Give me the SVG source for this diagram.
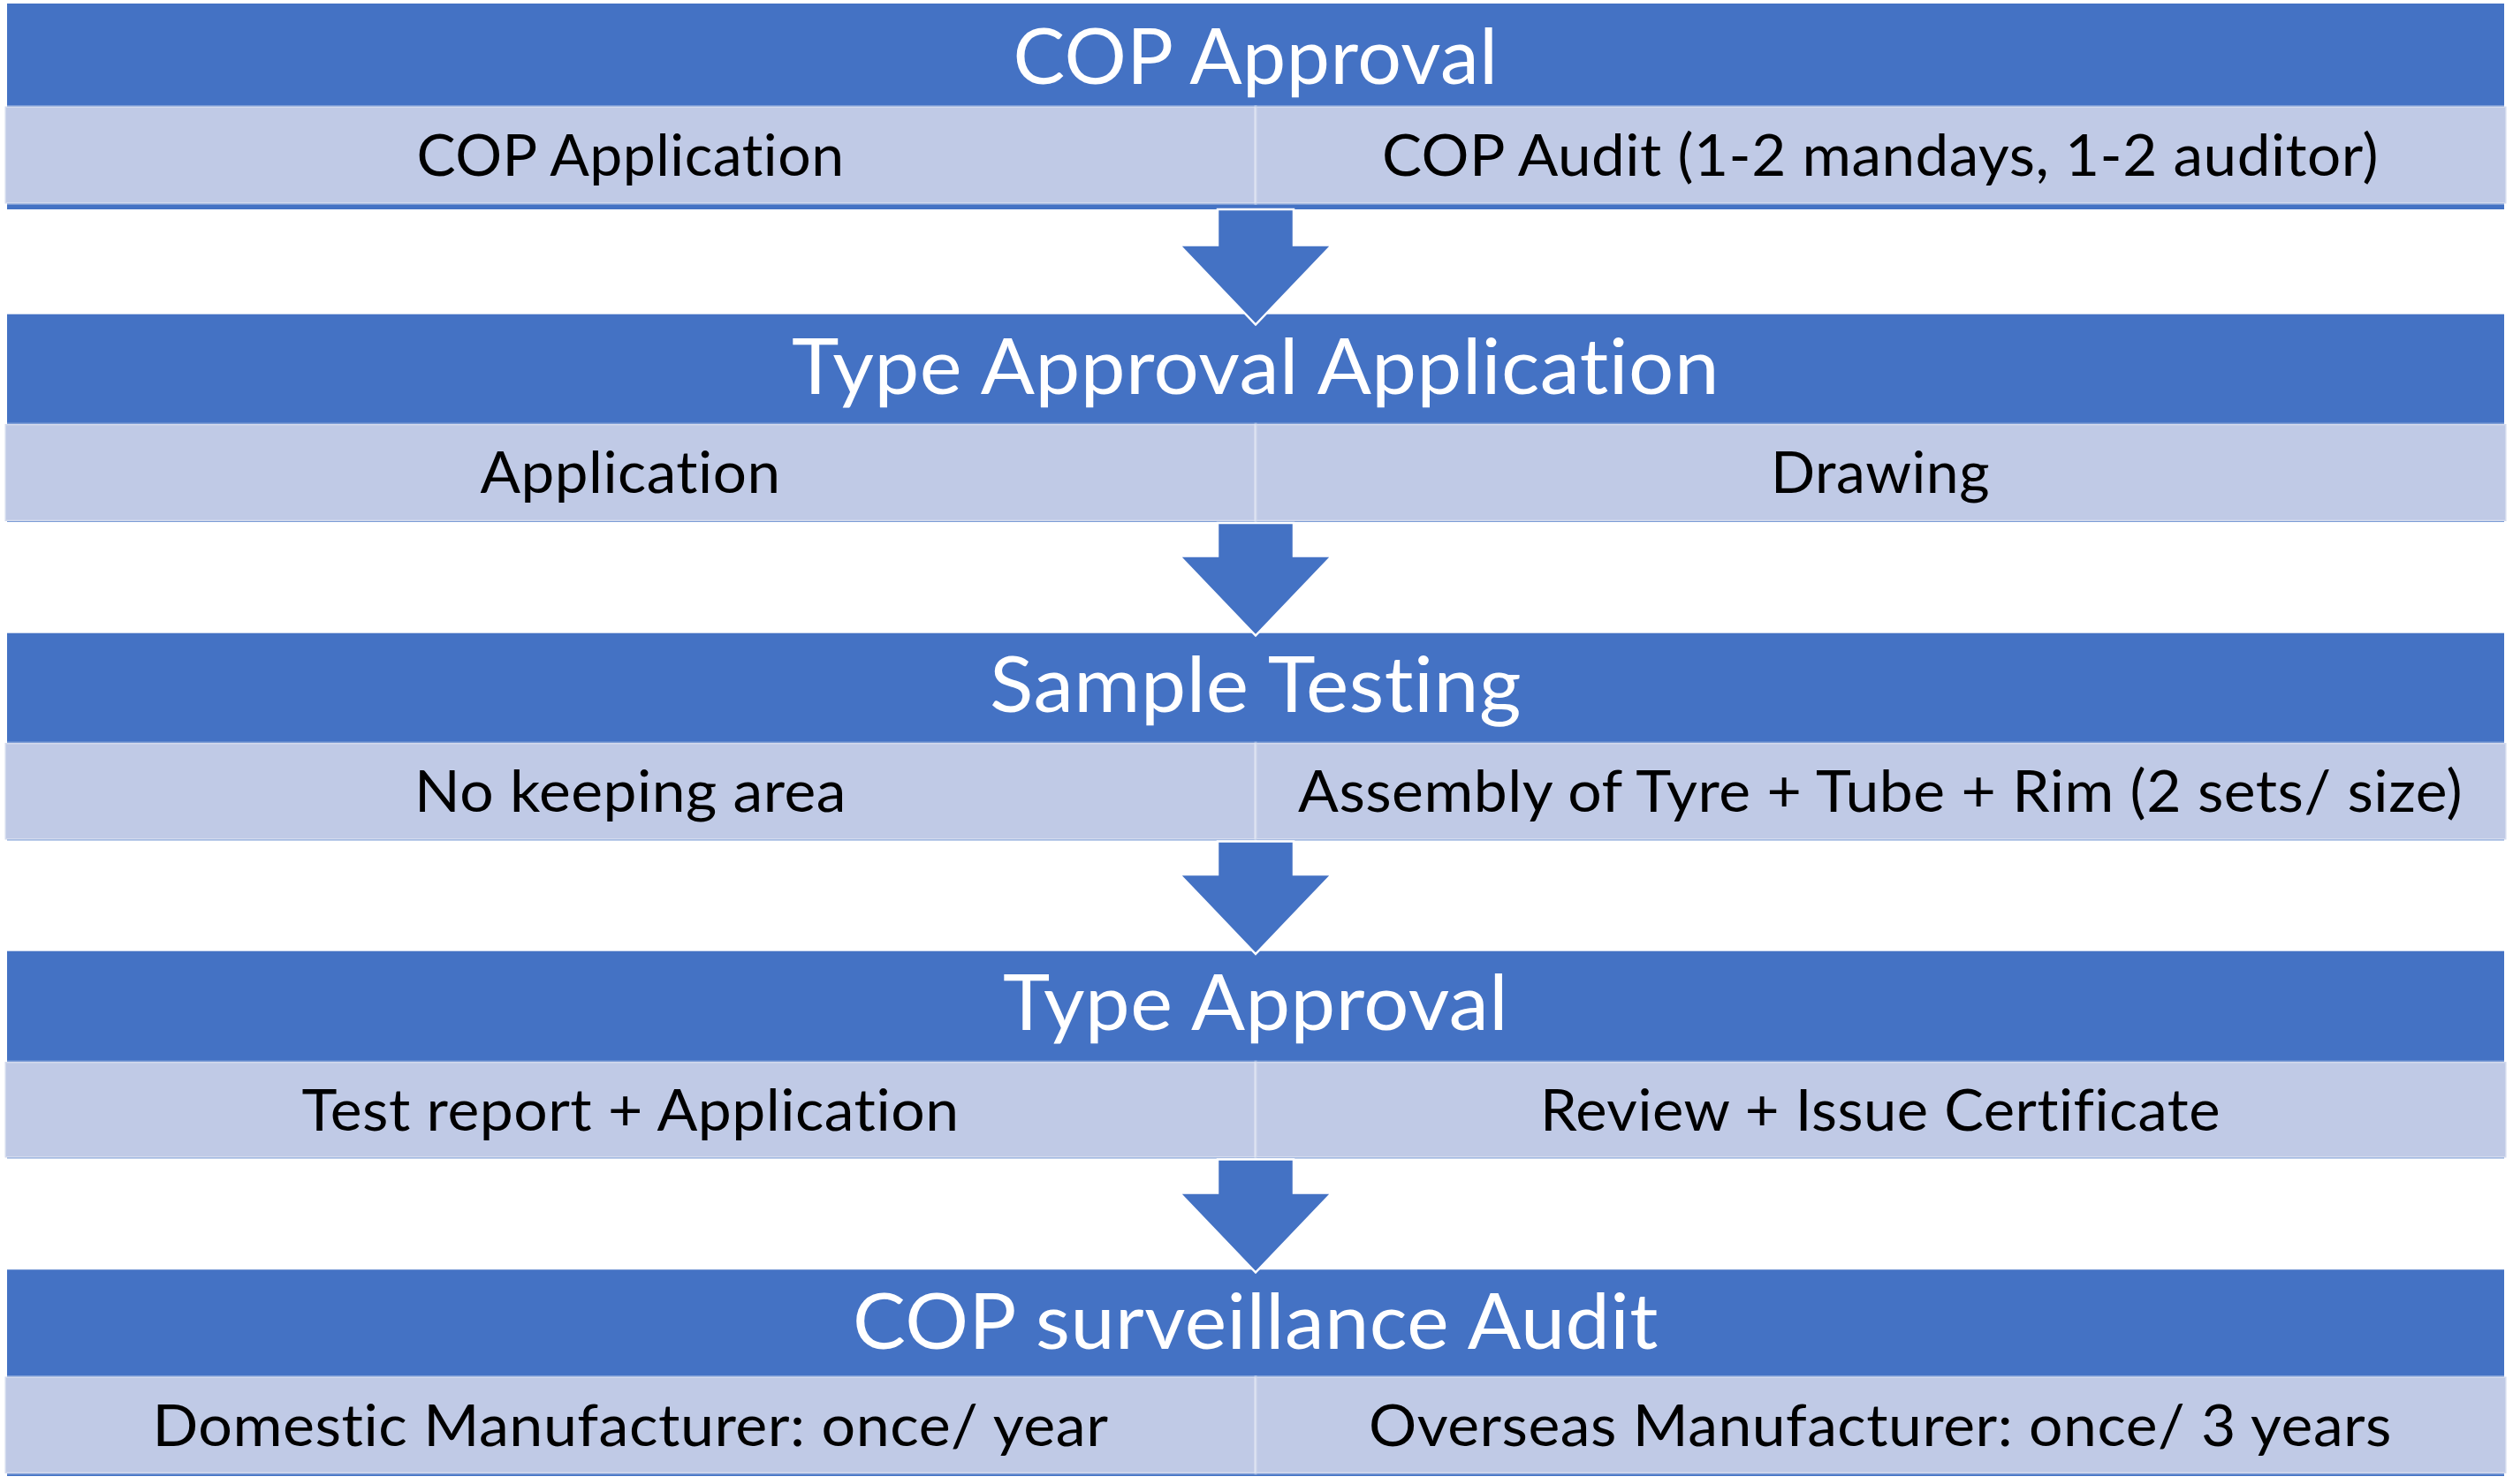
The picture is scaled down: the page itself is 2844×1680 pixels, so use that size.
<svg xmlns="http://www.w3.org/2000/svg" width="2844" height="1680" viewBox="0 0 2844 1680">
<style>
.bg{fill:#ffffff}
.head{fill:#4472C4}
.cell{fill:#C0CAE6;stroke:#ffffff;stroke-opacity:0.3;stroke-width:3}
.ht,.st{font-family:Lato,"Open Sans","Liberation Sans",sans-serif;text-anchor:middle;font-variant-ligatures:none;font-feature-settings:"liga" 0,"clig" 0,"dlig" 0,"calt" 0;letter-spacing:0.5px}
.ht{font-size:87px;fill:#ffffff}
.st{font-size:66px;fill:#000000}
.arrow{fill:#4472C4;stroke:#ffffff;stroke-width:2.5;stroke-linejoin:miter}
</style>
<rect class="bg" x="0" y="0" width="2844" height="1680"/>

<g id="row1">
<rect class="head" x="8" y="4" width="2826" height="233"/>
<rect class="cell" x="5.5" y="120.5" width="1415.5" height="110"/>
<rect class="cell" x="1421" y="120.5" width="1415.5" height="110"/>
<text class="ht" x="1421" y="95" textLength="549" lengthAdjust="spacingAndGlyphs">COP Approval</text>
<text class="st" x="713.5" y="199" textLength="484" lengthAdjust="spacingAndGlyphs">COP Application</text>
<text class="st" x="2128" y="199" textLength="1128" lengthAdjust="spacingAndGlyphs">COP Audit (1-2 mandays, 1-2 auditor)</text>
</g>

<g id="row2">
<rect class="head" x="8" y="355.7" width="2826" height="235.3"/>
<rect class="cell" x="5.5" y="480" width="1415.5" height="110"/>
<rect class="cell" x="1421" y="480" width="1415.5" height="110"/>
<text class="ht" x="1421" y="446" textLength="1050" lengthAdjust="spacingAndGlyphs">Type Approval Application</text>
<text class="st" x="713.5" y="558" textLength="340" lengthAdjust="spacingAndGlyphs">Application</text>
<text class="st" x="2128" y="558" textLength="248" lengthAdjust="spacingAndGlyphs">Drawing</text>
</g>

<g id="row3">
<rect class="head" x="8" y="716.7" width="2826" height="234.8"/>
<rect class="cell" x="5.5" y="841" width="1415.5" height="109.5"/>
<rect class="cell" x="1421" y="841" width="1415.5" height="109.5"/>
<text class="ht" x="1421" y="806" textLength="602" lengthAdjust="spacingAndGlyphs">Sample Testing</text>
<text class="st" x="713.5" y="919" textLength="489" lengthAdjust="spacingAndGlyphs">No keeping area</text>
<text class="st" x="2128" y="919" textLength="1318" lengthAdjust="spacingAndGlyphs">Assembly of Tyre + Tube + Rim (2 sets/ size)</text>
</g>

<g id="row4">
<rect class="head" x="8" y="1076.7" width="2826" height="234.8"/>
<rect class="cell" x="5.5" y="1202" width="1415.5" height="108.5"/>
<rect class="cell" x="1421" y="1202" width="1415.5" height="108.5"/>
<text class="ht" x="1421" y="1166" textLength="572" lengthAdjust="spacingAndGlyphs">Type Approval</text>
<text class="st" x="713.5" y="1279.5" textLength="744" lengthAdjust="spacingAndGlyphs">Test report + Application</text>
<text class="st" x="2128" y="1279.5" textLength="770" lengthAdjust="spacingAndGlyphs">Review + Issue Certificate</text>
</g>

<g id="row5">
<rect class="head" x="8" y="1437.3" width="2826" height="233.7"/>
<rect class="cell" x="5.5" y="1558.5" width="1415.5" height="109.5"/>
<rect class="cell" x="1421" y="1558.5" width="1415.5" height="109.5"/>
<text class="ht" x="1421" y="1527" textLength="912" lengthAdjust="spacingAndGlyphs">COP surveillance Audit</text>
<text class="st" x="713.5" y="1636.5" textLength="1082" lengthAdjust="spacingAndGlyphs">Domestic Manufacturer: once/ year</text>
<text class="st" x="2128" y="1636.5" textLength="1158" lengthAdjust="spacingAndGlyphs">Overseas Manufacturer: once/ 3 years</text>
</g>

<g id="connectors">
<polygon class="arrow" points="1378,237 1464,237 1464,277.5 1507,277.5 1421,367.5 1335,277.5 1378,277.5"/>
<polygon class="arrow" points="1378,592 1464,592 1464,629.5 1507,629.5 1421,719.5 1335,629.5 1378,629.5"/>
<polygon class="arrow" points="1378,952.5 1464,952.5 1464,990 1507,990 1421,1080 1335,990 1378,990"/>
<polygon class="arrow" points="1378,1312.5 1464,1312.5 1464,1350.5 1507,1350.5 1421,1440.5 1335,1350.5 1378,1350.5"/>
</g>
</svg>
